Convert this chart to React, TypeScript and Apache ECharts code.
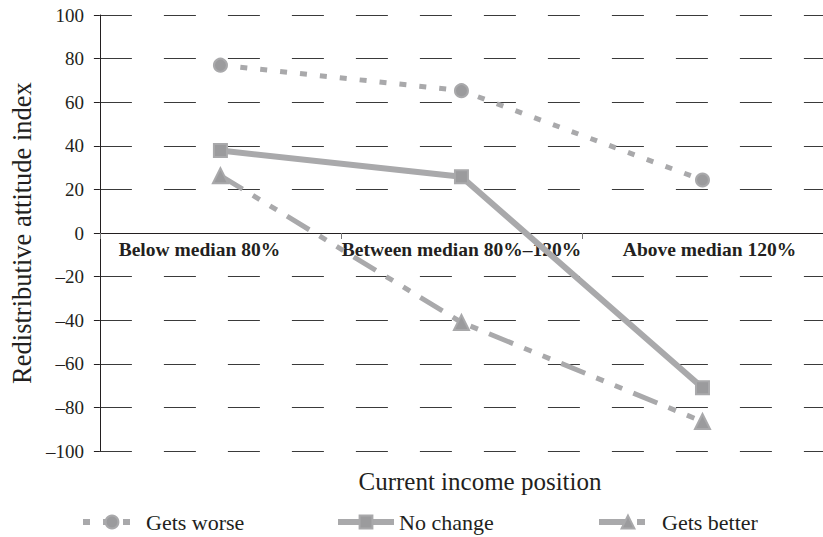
import React, { useEffect, useRef } from "react";
import * as echarts from "echarts";

const categories = ["Below median 80%", "Between median 80%–120%", "Above median 120%"];
const getsWorse = [77, 65.3, 24.3];
const noChange = [37.8, 25.8, -71];
const getsBetter = [26.3, -41, -86.5];
const yMin = -100;
const yMax = 100;
const yInterval = 20;

const TEXT = "#231f20";
const LINE = "#a9a9ab";
const MARK = "#9b9b9d";
const SERIF = "'Liberation Serif', 'Times New Roman', serif";

export default function App() {
  const ref = useRef<HTMLDivElement>(null);
  useEffect(() => {
    if (!ref.current) return;
    const chart = echarts.init(ref.current, null, { renderer: "svg" });
    const legendText = { fontFamily: SERIF, fontSize: 22, color: TEXT };
    const legendCommon = {
      top: 511,
      padding: 0,
      itemHeight: 16,
      textStyle: legendText,
      lineStyle: { width: 6 },
    };
    chart.setOption({
      animation: false,
      backgroundColor: "#ffffff",
      grid: { left: 97, right: -7.5, top: 15, bottom: 86, containLabel: false },
      legend: [
        { ...legendCommon, data: ["Gets worse"], left: 80, itemWidth: 58 },
        { ...legendCommon, data: ["No change"], left: 335, itemWidth: 56 },
        { ...legendCommon, data: ["Gets better"], left: 596, itemWidth: 58 },
      ],
      xAxis: {
        type: "category",
        data: categories,
        boundaryGap: true,
        position: "bottom",
        offset: -218,
        axisLine: { onZero: false, lineStyle: { color: TEXT, width: 1 } },
        axisTick: { show: true, length: 6, lineStyle: { color: "#777" } },
        axisLabel: {
          interval: 0,
          margin: 6,
          fontFamily: SERIF,
          fontWeight: "bold",
          fontSize: 19.5,
          color: TEXT,
          formatter: (v: string, i: number) => (i === 0 ? `{a|${v}}` : i === 2 ? `{c|${v}}` : `{b|${v}}`),
          rich: {
            a: { fontFamily: SERIF, fontWeight: "bold", fontSize: 19.5, color: TEXT, padding: [0, 42, 0, 0] },
            b: { fontFamily: SERIF, fontWeight: "bold", fontSize: 19.5, color: TEXT },
            c: { fontFamily: SERIF, fontWeight: "bold", fontSize: 19.5, color: TEXT, padding: [0, 0, 0, 14] },
          },
        },
        splitLine: { show: false },
      },
      yAxis: {
        type: "value",
        min: yMin,
        max: yMax,
        interval: yInterval,
        name: "Redistributive attitude index",
        nameLocation: "middle",
        nameGap: 52,
        nameTextStyle: { fontFamily: SERIF, fontSize: 26.5, color: TEXT },
        axisLine: { show: true, lineStyle: { color: TEXT, width: 1 } },
        axisTick: { show: true, length: 6, lineStyle: { color: TEXT } },
        axisLabel: {
          margin: 16,
          fontFamily: SERIF,
          fontSize: 19,
          color: TEXT,
          formatter: (v: number) => (v < 0 ? "–" + Math.abs(v) : String(v)),
        },
        splitLine: { show: true, lineStyle: { color: "#3a3a3a", width: 1, type: [32, 32], dashOffset: 0 } },
      },
      graphic: [
        {
          type: "text",
          x: 480,
          y: 481,
          style: {
            text: "Current income position",
            font: `25px ${SERIF}`,
            fill: TEXT,
            textAlign: "center",
            textVerticalAlign: "middle",
          },
        },
      ],
      series: [
        {
          name: "Gets worse",
          type: "line",
          data: getsWorse,
          symbol: "circle",
          symbolSize: 13,
          itemStyle: { color: MARK, borderColor: LINE, borderWidth: 2 },
          lineStyle: { color: LINE, width: 5, type: [7, 13] },
          z: 3,
        },
        {
          name: "No change",
          type: "line",
          data: noChange,
          symbol: "rect",
          symbolSize: 13,
          itemStyle: { color: MARK, borderColor: LINE, borderWidth: 2 },
          lineStyle: { color: LINE, width: 6, type: "solid" },
          z: 4,
        },
        {
          name: "Gets better",
          type: "line",
          data: getsBetter,
          symbol: "triangle",
          symbolSize: 15,
          itemStyle: { color: MARK, borderColor: LINE, borderWidth: 2 },
          lineStyle: { color: LINE, width: 5, type: [26, 12, 8, 12, 8, 12] },
          z: 3,
        },
      ],
    });
    return () => chart.dispose();
  }, []);
  return (
    <div
      ref={ref}
      style={{ position: "absolute", left: 0, top: 0, width: 823, height: 537, background: "#fff" }}
    />
  );
}
